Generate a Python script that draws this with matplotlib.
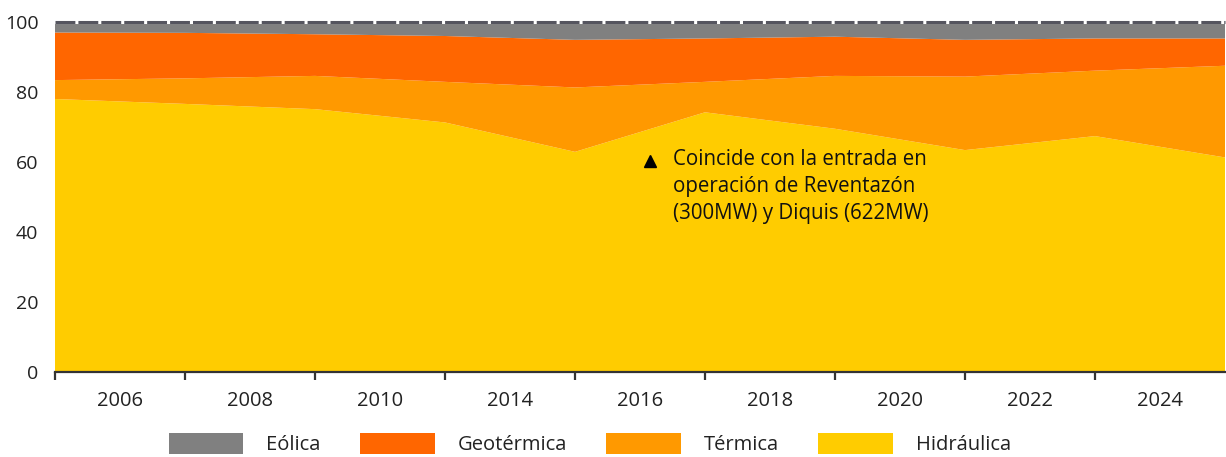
import matplotlib
matplotlib.use("Agg")
import matplotlib.pyplot as plt
from matplotlib.patches import Patch
import numpy as np

plt.rcParams['font.family'] = ['Open Sans', 'DejaVu Sans']

# Data (percent share of generation)
year_labels = ["2006", "2008", "2010", "2014", "2016", "2018", "2020", "2022", "2024"]
hidraulica = [78.0, 76.6, 75.1, 71.3, 62.9, 74.2, 69.5, 63.4, 67.4, 61.3]
termica    = [5.4, 7.3, 9.5, 11.6, 18.4, 8.7, 15.1, 21.0, 18.7, 26.2]
geotermica = [13.6, 13.0, 11.9, 13.1, 13.6, 12.4, 11.2, 10.5, 9.2, 7.8]
eolica     = [3.0, 3.1, 3.5, 4.0, 5.1, 4.7, 4.2, 5.1, 4.7, 4.7]
series_names = ["Eólica", "Geotérmica", "Térmica", "Hidráulica"]
colors = {"Hidráulica": "#FFCC00", "Térmica": "#FF9900",
          "Geotérmica": "#FF6600", "Eólica": "#808080"}
note = "Coincide con la entrada en\noperación de Reventazón\n(300MW) y Diquis (622MW)"

W, H = 1226, 457
fig = plt.figure(figsize=(W / 100, H / 100), dpi=100)
ax = fig.add_axes([55 / W, 1 - 372 / H, (1225 - 55) / W, 350 / H])

x = np.arange(len(hidraulica))
ax.stackplot(x, hidraulica, termica, geotermica, eolica,
             colors=[colors["Hidráulica"], colors["Térmica"],
                     colors["Geotérmica"], colors["Eólica"]],
             linewidth=0)

ax.set_xlim(0, len(hidraulica) - 1)
ax.set_ylim(0, 100)

# dashed top line
ax.axhline(100, color="white", lw=2.2, clip_on=False, zorder=3)
ax.axhline(100, color="#55555f", lw=2.2, dashes=(6.5, 1.0), clip_on=False, zorder=4)

for s in ["top", "right", "left"]:
    ax.spines[s].set_visible(False)
ax.spines["bottom"].set_color("#333333")
ax.spines["bottom"].set_linewidth(1.6)
ax.spines["bottom"].set_zorder(5)

ax.set_yticks([0, 20, 40, 60, 80, 100])
ax.tick_params(axis="y", length=0, pad=12, labelsize=14, labelcolor="#222222")

ax.set_xticks(np.arange(0, len(hidraulica) - 1))
ax.set_xticklabels([])
ax.set_xticks(np.arange(len(year_labels)) + 0.5, minor=True)
ax.set_xticklabels(year_labels, minor=True)
ax.tick_params(axis="x", which="major", length=6, width=1.6, color="#333333", direction="out")
ax.tick_params(axis="x", which="minor", length=0, pad=14, labelsize=14.5, labelcolor="#222222")

# annotation
ax.plot([4.58], [60.4], marker="^", color="black", markersize=9, linestyle="none")
ax.text(4.755, 63.6, note, ha="left", va="top", fontsize=14.8, color="#111111",
        linespacing=1.36)

handles = [Patch(facecolor=colors[n], edgecolor="none", label=n) for n in series_names]
fig.legend(handles=handles, loc="center", bbox_to_anchor=(590 / W, 1 - 444 / H),
           ncol=4, frameon=False, fontsize=14.5, handlelength=3.7, handleheight=1.2,
           handletextpad=1.15, columnspacing=1.95, labelcolor="#222222")

fig.savefig("out.png", dpi=100)
